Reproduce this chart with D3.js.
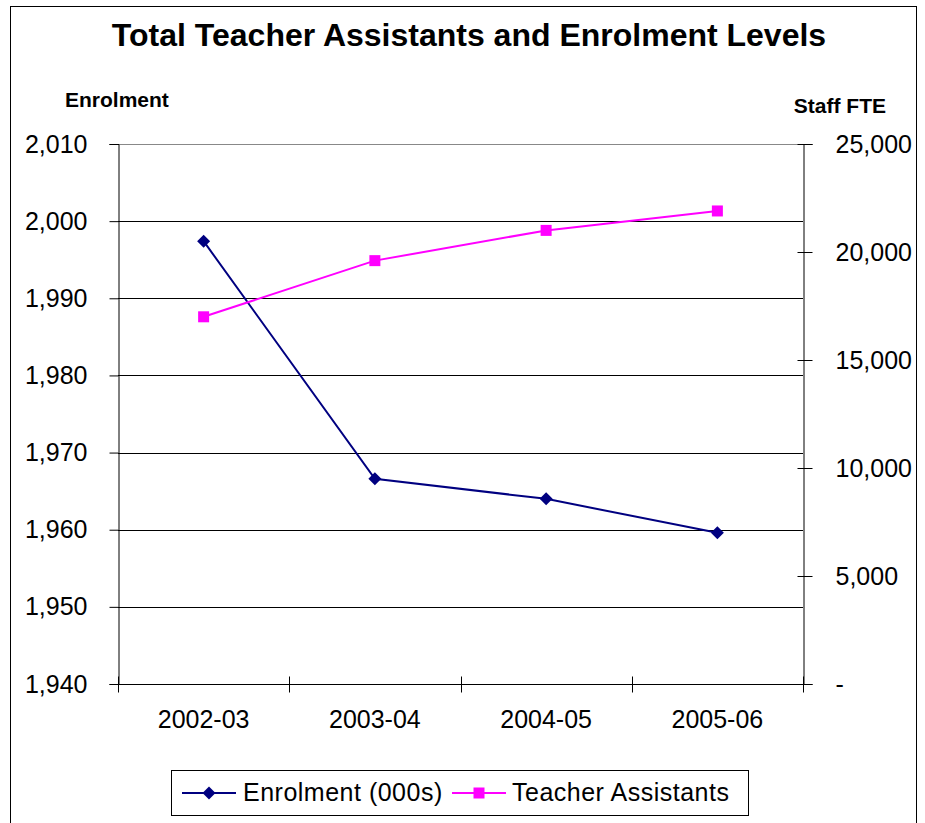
<!DOCTYPE html>
<html>
<head>
<meta charset="utf-8">
<script src="https://cdn.jsdelivr.net/npm/d3@7"></script>
<style>
  html, body { margin: 0; padding: 0; background: #fff; }
  svg { display: block; font-family: "Liberation Sans", Arial, sans-serif; }
</style>
</head>
<body>
<svg id="chart" width="925" height="823"></svg>
<script>
// Data
const categories = ["2002-03", "2003-04", "2004-05", "2005-06"];
const enrolment = [1997.4, 1966.6, 1964.0, 1959.6];          // thousands
const teacherAssistants = [17000, 19600, 21000, 21900];     // staff FTE
const leftTicks = [1940, 1950, 1960, 1970, 1980, 1990, 2000, 2010];
const rightTicks = [0, 5000, 10000, 15000, 20000, 25000];
const seriesNames = ["Enrolment (000s)", "Teacher Assistants"];

const svg = d3.select("#chart");
const m = { left: 118, right: 803, top: 144, bottom: 684 };

// outer chart border
svg.append("rect").attr("x", 10.5).attr("y", 6.5).attr("width", 906).attr("height", 830)
  .attr("fill", "none").attr("stroke", "#000").attr("stroke-width", 1);

const x = d3.scaleBand().domain(categories).range([m.left, m.right]);
const yL = d3.scaleLinear().domain([1940, 2010]).range([m.bottom, m.top]);
const yR = d3.scaleLinear().domain([0, 25000]).range([m.bottom, m.top]);

// gridlines
svg.append("g").selectAll("line").data(leftTicks.slice(1)).join("line")
  .attr("x1", m.left).attr("x2", m.right)
  .attr("y1", d => Math.round(yL(d)) + 0.5).attr("y2", d => Math.round(yL(d)) + 0.5)
  .attr("stroke", d => d === 2010 ? "#888" : "#000").attr("stroke-width", 1);

// left axis
const gL = svg.append("g").attr("transform", `translate(${m.left + 0.5},0)`)
  .call(d3.axisLeft(yL).tickValues(leftTicks).tickSize(9).tickPadding(22)
    .tickFormat(d3.format(",")));
// right axis (ticks crossing the line)
const gR = svg.append("g").attr("transform", `translate(${m.right + 0.5},0)`)
  .call(d3.axisRight(yR).tickValues(rightTicks).tickSize(9).tickPadding(23)
    .tickFormat(d => d === 0 ? "-" : d3.format(",")(d)));
gR.selectAll(".tick line").attr("x1", -6);

// bottom axis with ticks at category boundaries
const gB = svg.append("g").attr("transform", `translate(0,${m.bottom + 0.5})`)
  .call(d3.axisBottom(x).tickSize(0).tickPadding(26));
const bounds = categories.map(c => x(c)).concat([m.right]);
gB.selectAll(".boundary").data(bounds).join("line").attr("class", "boundary")
  .attr("x1", d => Math.round(d) + 0.5).attr("x2", d => Math.round(d) + 0.5)
  .attr("y1", -8).attr("y2", 8).attr("stroke", "#000");

[gL, gR, gB].forEach(g => {
  g.select(".domain").attr("stroke", "#000").attr("stroke-width", 1);
  g.selectAll(".tick line").attr("stroke", "#000");
  g.selectAll("text").attr("font-size", 25).attr("fill", "#000")
    .attr("font-family", "'Liberation Sans', Arial, sans-serif");
});
gB.select(".domain").attr("d", `M${m.left},0H${m.right}`);

const cx = c => x(c) + x.bandwidth() / 2;

// series lines
const navy = "#000080", magenta = "#FF00FF";
svg.append("path").datum(enrolment)
  .attr("d", d3.line().x((d, i) => cx(categories[i])).y(d => yL(d)))
  .attr("fill", "none").attr("stroke", navy).attr("stroke-width", 2);
svg.append("path").datum(teacherAssistants)
  .attr("d", d3.line().x((d, i) => cx(categories[i])).y(d => yR(d)))
  .attr("fill", "none").attr("stroke", magenta).attr("stroke-width", 2);

// markers
const diamond = s => `M0,${-s}L${s},0L0,${s}L${-s},0Z`;
svg.append("g").selectAll("path").data(enrolment).join("path")
  .attr("transform", (d, i) => `translate(${cx(categories[i])},${yL(d)})`)
  .attr("d", diamond(6.5)).attr("fill", navy);
svg.append("g").selectAll("rect").data(teacherAssistants).join("rect")
  .attr("x", (d, i) => cx(categories[i]) - 5.5).attr("y", d => yR(d) - 5.5)
  .attr("width", 11).attr("height", 11).attr("fill", magenta);

// titles
svg.append("text").attr("x", 469).attr("y", 46).attr("text-anchor", "middle")
  .attr("font-size", 32).attr("font-weight", "bold").text("Total Teacher Assistants and Enrolment Levels");
svg.append("text").attr("x", 65).attr("y", 107)
  .attr("font-size", 21).attr("font-weight", "bold").text("Enrolment");
svg.append("text").attr("x", 886).attr("y", 113).attr("text-anchor", "end")
  .attr("font-size", 21).attr("font-weight", "bold").text("Staff FTE");

// legend
const lg = svg.append("g");
lg.append("rect").attr("x", 171.5).attr("y", 770.5).attr("width", 577).attr("height", 45)
  .attr("fill", "#fff").attr("stroke", "#000");
const items = [
  { name: seriesNames[0], color: navy, x0: 182, tx: 243, shape: "d" },
  { name: seriesNames[1], color: magenta, x0: 452, tx: 512, shape: "s" }
];
items.forEach(it => {
  const ly = 793;
  lg.append("line").attr("x1", it.x0).attr("x2", it.x0 + 54).attr("y1", ly).attr("y2", ly)
    .attr("stroke", it.color).attr("stroke-width", 2);
  if (it.shape === "d") {
    lg.append("path").attr("transform", `translate(${it.x0 + 27},${ly})`).attr("d", diamond(6.5)).attr("fill", it.color);
  } else {
    lg.append("rect").attr("x", it.x0 + 27 - 5.5).attr("y", ly - 5.5).attr("width", 11).attr("height", 11).attr("fill", it.color);
  }
  lg.append("text").attr("x", it.tx).attr("y", ly + 8).attr("font-size", 25)
    .attr("letter-spacing", 0.5).text(it.name);
});
</script>
</body>
</html>
